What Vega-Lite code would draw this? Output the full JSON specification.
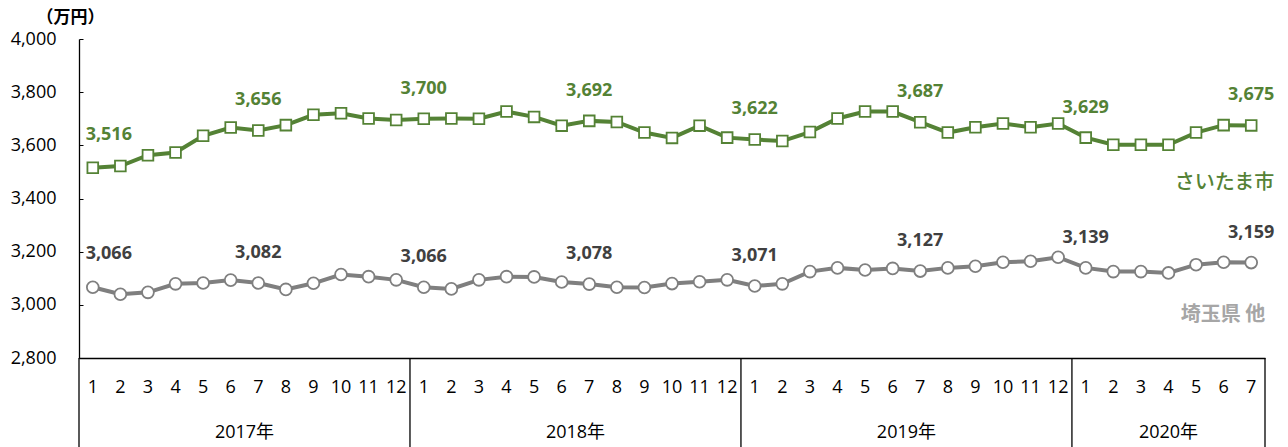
{
  "$schema": "https://vega.github.io/schema/vega-lite/v6.json",
  "width": 1186,
  "height": 319,
  "autosize": {"type": "none"},
  "padding": {"left": 79, "top": 39, "right": 23, "bottom": 89},
  "background": "white",
  "config": {"view": {"stroke": null}, "font": "Open Sans, Noto Sans CJK JP"},
  "datasets": {
    "d": [
      {"m": "2017-01", "s": "さいたま市", "v": 3516}, {"m": "2017-02", "s": "さいたま市", "v": 3522},
      {"m": "2017-03", "s": "さいたま市", "v": 3563}, {"m": "2017-04", "s": "さいたま市", "v": 3573},
      {"m": "2017-05", "s": "さいたま市", "v": 3636}, {"m": "2017-06", "s": "さいたま市", "v": 3667},
      {"m": "2017-07", "s": "さいたま市", "v": 3656}, {"m": "2017-08", "s": "さいたま市", "v": 3676},
      {"m": "2017-09", "s": "さいたま市", "v": 3715}, {"m": "2017-10", "s": "さいたま市", "v": 3721},
      {"m": "2017-11", "s": "さいたま市", "v": 3701}, {"m": "2017-12", "s": "さいたま市", "v": 3695},
      {"m": "2018-01", "s": "さいたま市", "v": 3700}, {"m": "2018-02", "s": "さいたま市", "v": 3701},
      {"m": "2018-03", "s": "さいたま市", "v": 3700}, {"m": "2018-04", "s": "さいたま市", "v": 3727},
      {"m": "2018-05", "s": "さいたま市", "v": 3707}, {"m": "2018-06", "s": "さいたま市", "v": 3674},
      {"m": "2018-07", "s": "さいたま市", "v": 3692}, {"m": "2018-08", "s": "さいたま市", "v": 3688},
      {"m": "2018-09", "s": "さいたま市", "v": 3648}, {"m": "2018-10", "s": "さいたま市", "v": 3628},
      {"m": "2018-11", "s": "さいたま市", "v": 3674}, {"m": "2018-12", "s": "さいたま市", "v": 3629},
      {"m": "2019-01", "s": "さいたま市", "v": 3622}, {"m": "2019-02", "s": "さいたま市", "v": 3616},
      {"m": "2019-03", "s": "さいたま市", "v": 3650}, {"m": "2019-04", "s": "さいたま市", "v": 3701},
      {"m": "2019-05", "s": "さいたま市", "v": 3727}, {"m": "2019-06", "s": "さいたま市", "v": 3727},
      {"m": "2019-07", "s": "さいたま市", "v": 3687}, {"m": "2019-08", "s": "さいたま市", "v": 3648},
      {"m": "2019-09", "s": "さいたま市", "v": 3668}, {"m": "2019-10", "s": "さいたま市", "v": 3682},
      {"m": "2019-11", "s": "さいたま市", "v": 3668}, {"m": "2019-12", "s": "さいたま市", "v": 3682},
      {"m": "2020-01", "s": "さいたま市", "v": 3629}, {"m": "2020-02", "s": "さいたま市", "v": 3602},
      {"m": "2020-03", "s": "さいたま市", "v": 3602}, {"m": "2020-04", "s": "さいたま市", "v": 3602},
      {"m": "2020-05", "s": "さいたま市", "v": 3648}, {"m": "2020-06", "s": "さいたま市", "v": 3676},
      {"m": "2020-07", "s": "さいたま市", "v": 3675},
      {"m": "2017-01", "s": "埼玉県 他", "v": 3066}, {"m": "2017-02", "s": "埼玉県 他", "v": 3040},
      {"m": "2017-03", "s": "埼玉県 他", "v": 3047}, {"m": "2017-04", "s": "埼玉県 他", "v": 3079},
      {"m": "2017-05", "s": "埼玉県 他", "v": 3082}, {"m": "2017-06", "s": "埼玉県 他", "v": 3093},
      {"m": "2017-07", "s": "埼玉県 他", "v": 3082}, {"m": "2017-08", "s": "埼玉県 他", "v": 3058},
      {"m": "2017-09", "s": "埼玉県 他", "v": 3081}, {"m": "2017-10", "s": "埼玉県 他", "v": 3114},
      {"m": "2017-11", "s": "埼玉県 他", "v": 3106}, {"m": "2017-12", "s": "埼玉県 他", "v": 3094},
      {"m": "2018-01", "s": "埼玉県 他", "v": 3066}, {"m": "2018-02", "s": "埼玉県 他", "v": 3060},
      {"m": "2018-03", "s": "埼玉県 他", "v": 3094}, {"m": "2018-04", "s": "埼玉県 他", "v": 3106},
      {"m": "2018-05", "s": "埼玉県 他", "v": 3105}, {"m": "2018-06", "s": "埼玉県 他", "v": 3086},
      {"m": "2018-07", "s": "埼玉県 他", "v": 3078}, {"m": "2018-08", "s": "埼玉県 他", "v": 3066},
      {"m": "2018-09", "s": "埼玉県 他", "v": 3065}, {"m": "2018-10", "s": "埼玉県 他", "v": 3080},
      {"m": "2018-11", "s": "埼玉県 他", "v": 3087}, {"m": "2018-12", "s": "埼玉県 他", "v": 3094},
      {"m": "2019-01", "s": "埼玉県 他", "v": 3071}, {"m": "2019-02", "s": "埼玉県 他", "v": 3079},
      {"m": "2019-03", "s": "埼玉県 他", "v": 3125}, {"m": "2019-04", "s": "埼玉県 他", "v": 3139},
      {"m": "2019-05", "s": "埼玉県 他", "v": 3131}, {"m": "2019-06", "s": "埼玉県 他", "v": 3137},
      {"m": "2019-07", "s": "埼玉県 他", "v": 3127}, {"m": "2019-08", "s": "埼玉県 他", "v": 3139},
      {"m": "2019-09", "s": "埼玉県 他", "v": 3145}, {"m": "2019-10", "s": "埼玉県 他", "v": 3160},
      {"m": "2019-11", "s": "埼玉県 他", "v": 3164}, {"m": "2019-12", "s": "埼玉県 他", "v": 3179},
      {"m": "2020-01", "s": "埼玉県 他", "v": 3139}, {"m": "2020-02", "s": "埼玉県 他", "v": 3125},
      {"m": "2020-03", "s": "埼玉県 他", "v": 3125}, {"m": "2020-04", "s": "埼玉県 他", "v": 3120},
      {"m": "2020-05", "s": "埼玉県 他", "v": 3151}, {"m": "2020-06", "s": "埼玉県 他", "v": 3160},
      {"m": "2020-07", "s": "埼玉県 他", "v": 3159}
    ],
    "years": [
      {"label": "2017年", "m": "2017-07"},
      {"label": "2018年", "m": "2018-07"},
      {"label": "2019年", "m": "2019-07"},
      {"label": "2020年", "m": "2020-04"}
    ]
  },
  "data": {"name": "d"},
  "encoding": {
    "x": {
      "field": "m",
      "type": "ordinal",
      "scale": {"type": "band", "paddingInner": 0, "paddingOuter": 0},
      "axis": {
        "title": null,
        "domain": true,
        "domainColor": "#000000",
        "domainWidth": 1.3,
        "ticks": false,
        "labelAngle": 0,
        "labelExpr": "toNumber(substring(datum.value, 5, 7))",
        "labelBaseline": "middle",
        "labelPadding": 29,
        "labelFontSize": 18,
        "labelColor": "#000000",
        "labelOverlap": false,
        "labelBound": false
      }
    }
  },
  "layer": [
    {
      "mark": {"type": "line", "strokeWidth": 4},
      "encoding": {
        "y": {
          "field": "v",
          "type": "quantitative",
          "scale": {"domain": [2800, 4000], "nice": false, "zero": false},
          "axis": {
            "values": [2800, 3000, 3200, 3400, 3600, 3800, 4000],
            "labelExpr": "format(datum.value, ',')",
            "grid": false,
            "domainColor": "#000000",
            "domainWidth": 1.3,
            "tickColor": "#000000",
            "tickSize": -4,
            "labelPadding": 27,
            "labelFontSize": 18,
            "labelColor": "#000000",
            "title": "（万円）",
            "titleAngle": 0,
            "titleX": -9,
            "titleY": -22,
            "titleAlign": "center",
            "titleBaseline": "middle",
            "titleFontSize": 17,
            "titleFontWeight": "bold",
            "titleFont": "Noto Sans CJK JP",
            "titleColor": "#000000"
          }
        },
        "color": {
          "field": "s",
          "type": "nominal",
          "scale": {"domain": ["さいたま市", "埼玉県 他"], "range": ["#548235", "#7f7f7f"]},
          "legend": null
        }
      }
    },
    {
      "mark": {"type": "point", "filled": true, "fill": "white", "strokeWidth": 1.8, "opacity": 1},
      "encoding": {
        "y": {"field": "v", "type": "quantitative"},
        "stroke": {
          "field": "s",
          "type": "nominal",
          "scale": {"domain": ["さいたま市", "埼玉県 他"], "range": ["#548235", "#7f7f7f"]},
          "legend": null
        },
        "shape": {
          "field": "s",
          "type": "nominal",
          "scale": {"domain": ["さいたま市", "埼玉県 他"], "range": ["square", "circle"]},
          "legend": null
        },
        "size": {
          "field": "s",
          "type": "nominal",
          "scale": {"domain": ["さいたま市", "埼玉県 他"], "range": [115, 140]},
          "legend": null
        }
      }
    },
    {
      "transform": [{"filter": "datum.m == '2017-01'"}],
      "mark": {"type": "text", "fontSize": 18, "fontWeight": "bold", "dx": 16, "dy": -33, "baseline": "middle"},
      "encoding": {
        "y": {"field": "v", "type": "quantitative"},
        "text": {"field": "v", "type": "quantitative", "format": ","},
        "color": {"condition": {"test": "datum.s == 'さいたま市'", "value": "#548235"}, "value": "#404040"}
      }
    },
    {
      "transform": [{"filter": "datum.m != '2017-01' && (substring(datum.m, 5, 7) == '01' || substring(datum.m, 5, 7) == '07')"}],
      "mark": {"type": "text", "fontSize": 18, "fontWeight": "bold", "dy": -30, "baseline": "middle"},
      "encoding": {
        "y": {"field": "v", "type": "quantitative"},
        "text": {"field": "v", "type": "quantitative", "format": ","},
        "color": {"condition": {"test": "datum.s == 'さいたま市'", "value": "#548235"}, "value": "#404040"}
      }
    },
    {
      "transform": [{"filter": "datum.s == 'さいたま市' && substring(datum.m, 5, 7) == '01'"}],
      "mark": {"type": "rule", "color": "#000000", "strokeWidth": 1.3},
      "encoding": {
        "x": {"field": "m", "type": "ordinal", "bandPosition": 0},
        "y": {"datum": 2800, "type": "quantitative"},
        "y2": {"datum": 2455}
      }
    },
    {
      "transform": [{"filter": "datum.s == 'さいたま市' && datum.m == '2020-07'"}],
      "mark": {"type": "rule", "color": "#000000", "strokeWidth": 1.3},
      "encoding": {
        "x": {"field": "m", "type": "ordinal", "bandPosition": 1},
        "y": {"datum": 2800, "type": "quantitative"},
        "y2": {"datum": 2455}
      }
    },
    {
      "data": {"name": "years"},
      "transform": [{"filter": "datum.label != '2020年'"}],
      "mark": {"type": "text", "fontSize": 18, "color": "#000000", "dy": 75, "baseline": "middle"},
      "encoding": {
        "x": {"field": "m", "type": "ordinal", "bandPosition": 0},
        "y": {"datum": 2800, "type": "quantitative"},
        "text": {"field": "label", "type": "nominal"}
      }
    },
    {
      "data": {"name": "years"},
      "transform": [{"filter": "datum.label == '2020年'"}],
      "mark": {"type": "text", "fontSize": 18, "color": "#000000", "dy": 75, "baseline": "middle"},
      "encoding": {
        "x": {"field": "m", "type": "ordinal", "bandPosition": 0.5},
        "y": {"datum": 2800, "type": "quantitative"},
        "text": {"field": "label", "type": "nominal"}
      }
    },
    {
      "transform": [{"filter": "datum.s == 'さいたま市' && datum.m == '2020-07'"}],
      "mark": {"type": "text", "fontSize": 20, "font": "Noto Sans CJK JP", "fontWeight": 500, "color": "#548235", "align": "right", "dx": 23, "baseline": "middle"},
      "encoding": {
        "y": {"datum": 3458, "type": "quantitative"},
        "text": {"field": "s", "type": "nominal"}
      }
    },
    {
      "transform": [{"filter": "datum.s == '埼玉県 他' && datum.m == '2020-07'"}],
      "mark": {"type": "text", "fontSize": 20, "font": "Noto Sans CJK JP", "fontWeight": "bold", "color": "#a6a6a6", "align": "right", "dx": 14, "baseline": "middle"},
      "encoding": {
        "y": {"datum": 2962, "type": "quantitative"},
        "text": {"field": "s", "type": "nominal"}
      }
    }
  ]
}
